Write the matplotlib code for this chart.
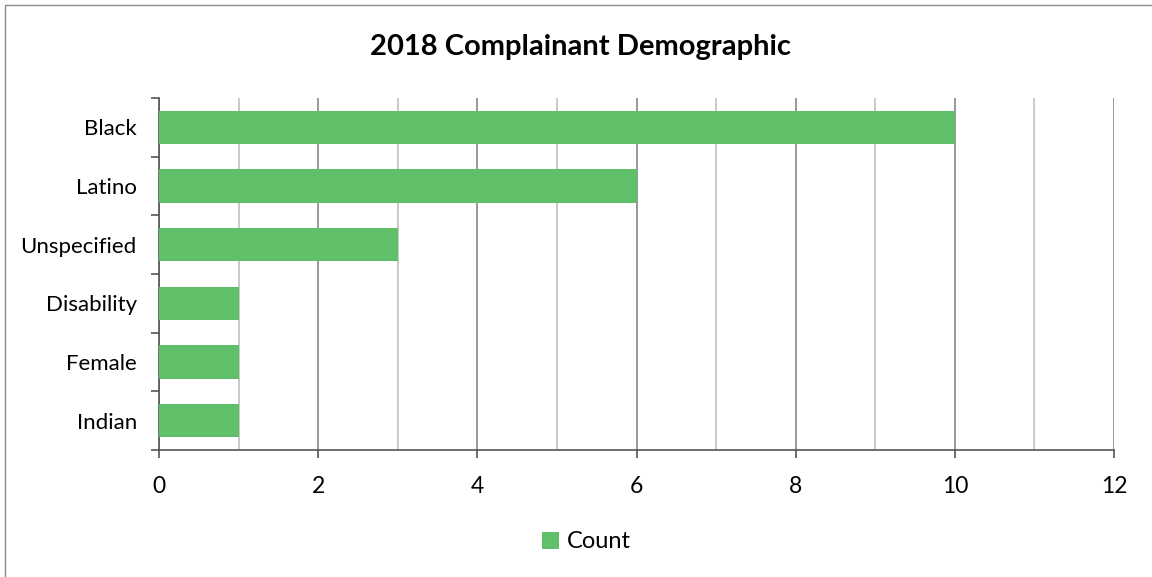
import matplotlib.pyplot as plt
import numpy as np
from matplotlib.patches import Rectangle
from matplotlib.ticker import MultipleLocator, FixedLocator

plt.rcParams['font.family'] = ['Lato', 'DejaVu Sans']

# data
categories = ["Black", "Latino", "Unspecified", "Disability", "Female", "Indian"]
counts = [10, 6, 3, 1, 1, 1]

fig = plt.figure(figsize=(11.52, 5.77), dpi=100)
ax = fig.add_axes([159/1152, 1 - 450/577, (1114 - 159)/1152, (450 - 98)/577])

# outer chart border
fig.patches.append(Rectangle((5/1152, -0.01), 1.02, 1 - 5/577 + 0.01, transform=fig.transFigure,
                             fill=False, edgecolor="#8c8c8c", linewidth=1.0))

y = np.arange(len(categories))[::-1]
ax.barh(y, counts, height=0.57, color="#60BF69", zorder=3)

ax.set_xlim(0, 12)
ax.set_ylim(-0.5, len(categories) - 0.5)
ax.xaxis.set_major_locator(MultipleLocator(2))
ax.xaxis.set_minor_locator(MultipleLocator(1))
ax.grid(which="major", axis="x", color="#878787", linewidth=1.2, zorder=0)
ax.grid(which="minor", axis="x", color="#c0c0c0", linewidth=1.2, zorder=0)

ax.set_yticks(y)
ax.set_yticklabels(categories)
ax.yaxis.set_minor_locator(FixedLocator(np.arange(-0.5, len(categories), 1.0)))
ax.tick_params(axis="y", which="major", length=0, pad=16, labelsize=16)
ax.tick_params(axis="y", which="minor", length=6, width=1.2, color="#555555")
ax.tick_params(axis="x", which="major", length=6, width=1.2, color="#555555", labelsize=16.5, pad=13)
ax.tick_params(axis="x", which="minor", length=0)

for s in ["top", "right"]:
    ax.spines[s].set_visible(False)
for s in ["left", "bottom"]:
    ax.spines[s].set_color("#555555")
    ax.spines[s].set_linewidth(1.2)

fig.text(581/1152, 1 - 47/577, "2018 Complainant Demographic", ha="center", va="center",
         fontsize=21, fontweight="bold")

leg = ax.legend(["Count"], loc="center", bbox_to_anchor=(586/1152, 1 - 542/577), bbox_transform=fig.transFigure,
                frameon=False, fontsize=17, handlelength=0.75, handleheight=0.75, handletextpad=0.3)

fig.savefig("out.png", dpi=100)
